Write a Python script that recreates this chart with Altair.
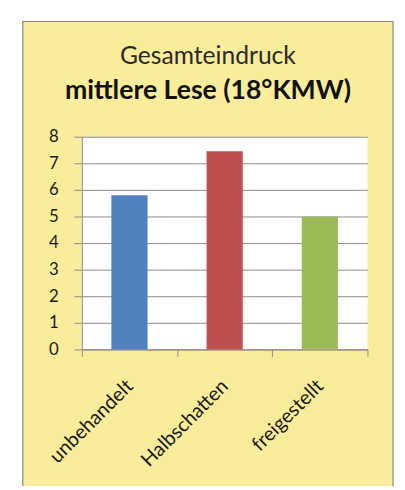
import altair as alt
import pandas as pd

categories = ["unbehandelt", "Halbschatten", "freigestellt"]
values = [5.8, 7.45, 5.0]
colors = ["#4F81BD", "#C0504D", "#9BBB59"]
y_ticks = [0, 1, 2, 3, 4, 5, 6, 7, 8]
title_line1 = "Gesamteindruck"
title_line2 = "mittlere Lese (18°KMW)"

df = pd.DataFrame({"Kategorie": categories, "Wert": values})

GRID = "#8f8888"
FONT = "Lato"
W, H = 290, 216

one = alt.Data(values=[{"k": 1}])

left_strip = alt.Chart(one).mark_rect(fill="white", strokeWidth=0).encode(
    x=alt.value(-80), x2=alt.value(-60.5), y=alt.value(-140), y2=alt.value(420)
)
top_strip = alt.Chart(one).mark_rect(fill="white", strokeWidth=0).encode(
    x=alt.value(-80), x2=alt.value(340), y=alt.value(-140), y2=alt.value(-117.5)
)
right_strip = alt.Chart(one).mark_rect(fill="white", strokeWidth=0).encode(
    x=alt.value(316.5), x2=alt.value(340), y=alt.value(-140), y2=alt.value(420)
)
border = alt.Chart(one).mark_rect(fillOpacity=0, stroke="#8a8a8a", strokeWidth=1.2).encode(
    x=alt.value(-60), x2=alt.value(316), y=alt.value(-117), y2=alt.value(400)
)
t1 = alt.Chart(one).mark_text(
    font=FONT, fontSize=25, fontWeight="normal", color="#2a2a2a", align="center", baseline="alphabetic"
).encode(x=alt.value(128), y=alt.value(-74), text=alt.value(title_line1))
t2 = alt.Chart(one).mark_text(
    font=FONT, fontSize=27, fontWeight="bold", color="#111111", align="center", baseline="alphabetic"
).encode(x=alt.value(128), y=alt.value(-38), text=alt.value(title_line2))

bars = alt.Chart(df).mark_bar(width=alt.RelativeBandSize(0.38)).encode(
    x=alt.X(
        "Kategorie:N",
        sort=categories,
        scale=alt.Scale(paddingInner=0, paddingOuter=0),
        axis=alt.Axis(
            title=None,
            tickBand="extent",
            labelAngle=-45,
            labelAlign="right",
            labelBaseline="middle",
            labelFontSize=20,
            labelFont=FONT,
            labelColor="#1a1a1a",
            labelPadding=27,
            tickSize=7,
            tickColor=GRID,
            domainColor=GRID,
            grid=False,
        ),
    ),
    y=alt.Y(
        "Wert:Q",
        scale=alt.Scale(domain=[0, 8], nice=False),
        axis=alt.Axis(
            title=None,
            values=y_ticks,
            labelFontSize=17,
            labelFont=FONT,
            labelColor="#1a1a1a",
            labelPadding=16,
            tickSize=8,
            tickColor=GRID,
            domainColor=GRID,
            gridColor=GRID,
            grid=True,
        ),
    ),
    color=alt.Color("Kategorie:N", sort=categories,
                    scale=alt.Scale(domain=categories, range=colors), legend=None),
)

chart = alt.layer(left_strip, top_strip, right_strip, border, t1, t2, bars).properties(
    width=W,
    height=H,
    background="#F9EC9A",
    padding={"left": 75, "top": 127, "right": 30, "bottom": 135},
    autosize=alt.AutoSizeParams(type="none"),
).configure_view(fill="white", stroke=None)

chart.save("out.html", embed_options={"renderer": "svg", "actions": False})
